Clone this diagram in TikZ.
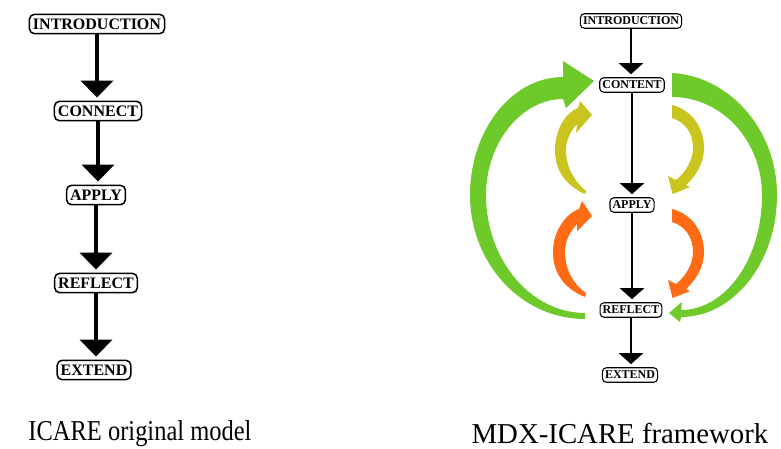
\documentclass[tikz,border=0pt]{standalone}
\usepackage{fontspec}
\setmainfont{Liberation Serif}[BoldFont={Liberation Serif Bold}]
\usetikzlibrary{arrows.meta}

\definecolor{loopgreen}{RGB}{110,201,42}
\definecolor{loopolive}{RGB}{202,196,31}
\definecolor{looporange}{RGB}{255,106,20}

\tikzset{
  lbox/.style={draw, rounded corners=5pt, line width=1.5pt,
    font=\bfseries\fontsize{16}{16}\selectfont,
    inner xsep=3.5pt, inner ysep=4.4pt, text height=10.6pt, text depth=0pt},
  rbox/.style={draw, rounded corners=4pt, line width=1.1pt,
    font=\bfseries\fontsize{12}{12}\selectfont,
    inner xsep=2.6pt, inner ysep=3.3pt, text height=7.9pt, text depth=0pt},
  larrow/.style={line width=4pt, -{Triangle[width=32pt,length=17pt]}, shorten >=3pt},
  rarrow/.style={line width=2pt, -{Triangle[width=24pt,length=11pt]}, shorten >=3pt},
  caption/.style={anchor=base, inner sep=0pt, font=\fontsize{28.8}{30}\selectfont},
}

\begin{document}
\begin{tikzpicture}[x=1pt, y=-1pt]
\useasboundingbox (0,0) rectangle (781,448);
\fill[white] (0,0) rectangle (781,448);

% ---------- ICARE original model ----------
\node[lbox] (i1) at (97,24)  {INTRODUCTION};
\node[lbox] (c1) at (98,111) {CONNECT};
\node[lbox] (a1) at (96,195) {APPLY};
\node[lbox] (r1) at (96,283) {REFLECT};
\node[lbox] (e1) at (94,370) {EXTEND};

\draw[larrow] (i1.south) -- (i1.south |- c1.north);
\draw[larrow] (c1.south) -- (c1.south |- a1.north);
\draw[larrow] (a1.south) -- (a1.south |- r1.north);
\draw[larrow] (r1.south) -- (r1.south |- e1.north);

% ---------- MDX-ICARE framework: feedback loops ----------
% outer left loop, REFLECT back to CONTENT
\fill[loopgreen]
  (585,319) .. controls (521,319) and (470,263) .. (470,195)
            .. controls (470,130) and (512,77) .. (563,77)
  -- (563,61) -- (594,81) -- (566,108) -- (563,99)
            .. controls (522,99) and (486,142) .. (486,195)
            .. controls (486,260) and (531,313) .. (585,313) -- cycle;

% outer right loop, CONTENT down to REFLECT
\fill[loopgreen]
  (672,73) .. controls (728,76) and (777,128) .. (777,195)
           .. controls (777,263) and (733,317) .. (681,317)
  -- (680,322) -- (669,313) -- (682,302) -- (681,310)
           .. controls (725,310) and (762,260) .. (762,195)
           .. controls (762,141) and (722,97) .. (672,97) -- cycle;

% inner left loops
\fill[loopolive]
  (585,194) .. controls (565,185) and (555,170) .. (555,150)
            .. controls (555,130) and (565,113) .. (578,108)
  -- (580,101) -- (592,115) -- (576,133) -- (577,124)
            .. controls (570,132) and (566,140) .. (566,150)
            .. controls (566,168) and (575,182) .. (586,191) -- cycle;

\fill[looporange]
  (585,297) .. controls (563,288) and (553,272) .. (553,252)
            .. controls (553,232) and (565,214) .. (579,209)
  -- (582,201) -- (592,216) -- (577,231) -- (577,224)
            .. controls (570,232) and (565,240) .. (565,252)
            .. controls (565,270) and (574,285) .. (586,293) -- cycle;

% inner right loops
\fill[loopolive]
  (672,105) .. controls (692,110) and (704,128) .. (704,148)
            .. controls (704,162) and (697,175) .. (686,185)
  -- (690,187) -- (672.5,194) -- (668,176) -- (676,180)
            .. controls (686,172) and (693,160) .. (693,148)
            .. controls (693,133) and (685,122) .. (672,118) -- cycle;

\fill[looporange]
  (672,209) .. controls (692,214) and (704,232) .. (704,252)
            .. controls (704,266) and (697,279) .. (686,289)
  -- (690,291) -- (672.5,298) -- (668,280) -- (676,284)
            .. controls (686,276) and (693,264) .. (693,252)
            .. controls (693,237) and (685,226) .. (672,222) -- cycle;

% ---------- MDX-ICARE framework: main sequence ----------
\node[rbox] (i2) at (631,21)  {INTRODUCTION};
\node[rbox] (c2) at (632,85)  {CONTENT};
\node[rbox] (a2) at (632,205) {APPLY};
\node[rbox] (r2) at (631,310) {REFLECT};
\node[rbox] (e2) at (630,375) {EXTEND};

\draw[rarrow] (i2.south) -- (i2.south |- c2.north);
\draw[rarrow] (c2.south) -- (c2.south |- a2.north);
\draw[rarrow] (a2.south) -- (a2.south |- r2.north);
\draw[rarrow] (r2.south) -- (r2.south |- e2.north);

% ---------- captions ----------
\node[caption] (cap1) at (140,440) {\scalebox{0.85}[1]{ICARE original model}};
\node[caption] (cap2) at (620,443) {MDX-ICARE framework};
\end{tikzpicture}
\end{document}
